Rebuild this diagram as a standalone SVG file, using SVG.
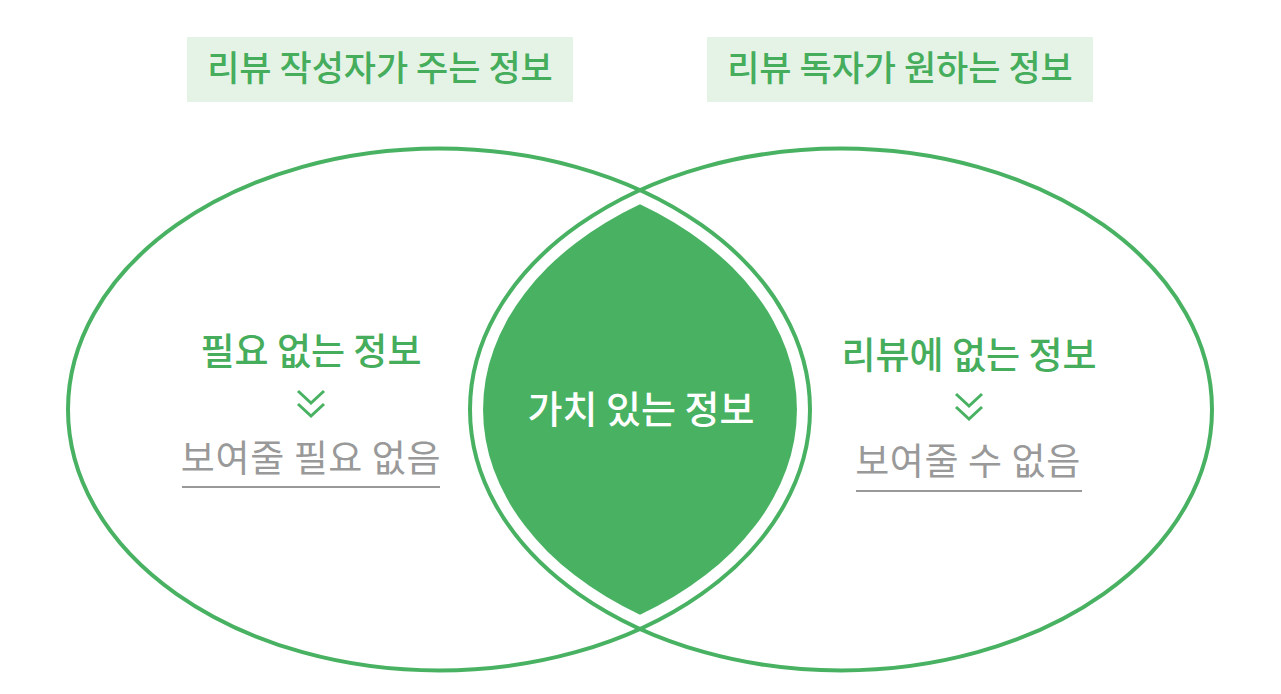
<svg xmlns="http://www.w3.org/2000/svg" width="1281" height="694" viewBox="0 0 1281 694">
<style>
.ring{fill:none;stroke:#48b262;stroke-width:4}
.lens{fill:#48b262}
.tbox{fill:#e5f3e7}
.title{font-family:"Noto Sans CJK KR","Noto Sans",sans-serif;font-size:35px;font-weight:500;fill:#45ad5c;text-anchor:middle}
.green{font-family:"Noto Sans CJK KR","Noto Sans",sans-serif;font-size:37px;font-weight:500;fill:#45ad5c;text-anchor:middle}
.gray{font-family:"Noto Sans CJK KR","Noto Sans",sans-serif;font-size:37px;font-weight:400;fill:#999999;text-anchor:middle;letter-spacing:0.6px}
.white{font-family:"Noto Sans CJK KR","Noto Sans",sans-serif;font-size:38px;font-weight:500;fill:#ffffff;text-anchor:middle}
.chev{fill:none;stroke:#48b262;stroke-width:3}
.uline{stroke:#999999;stroke-width:2}
</style>
<rect width="1281" height="694" fill="#ffffff"/>
<g id="left-set">
<ellipse class="ring" cx="439" cy="409.5" rx="371" ry="261"/>
</g>
<g id="right-set">
<ellipse class="ring" cx="841" cy="409.5" rx="371" ry="261"/>
</g>
<g id="intersection">
<path class="lens" d="M640 204.3 A358 248 0 0 0 640 614.7 A358 248 0 0 0 640 204.3 Z"/>
<text class="white" x="641" y="423">가치 있는 정보</text>
</g>
<g id="title-left">
<rect class="tbox" x="187" y="37" width="386" height="65"/>
<text class="title" x="380" y="81">리뷰 작성자가 주는 정보</text>
</g>
<g id="title-right">
<rect class="tbox" x="707" y="37" width="386" height="65"/>
<text class="title" x="900" y="81">리뷰 독자가 원하는 정보</text>
</g>
<g id="left-only">
<text class="green" x="311" y="365">필요 없는 정보</text>
<text class="gray" x="311" y="472">보여줄 필요 없음</text>
<line class="uline" x1="182" y1="487" x2="440" y2="487"/>
</g>
<g id="right-only">
<text class="green" x="969" y="369">리뷰에 없는 정보</text>
<text class="gray" x="968" y="475">보여줄 수 없음</text>
<line class="uline" x1="856" y1="491" x2="1082" y2="491"/>
</g>
<g id="connectors">
<polyline class="chev" points="298,391 311,403 324,391"/>
<polyline class="chev" points="298,404 311,416 324,404"/>
<polyline class="chev" points="956,394 969,406 982,394"/>
<polyline class="chev" points="956,407 969,419 982,407"/>
</g>
</svg>
